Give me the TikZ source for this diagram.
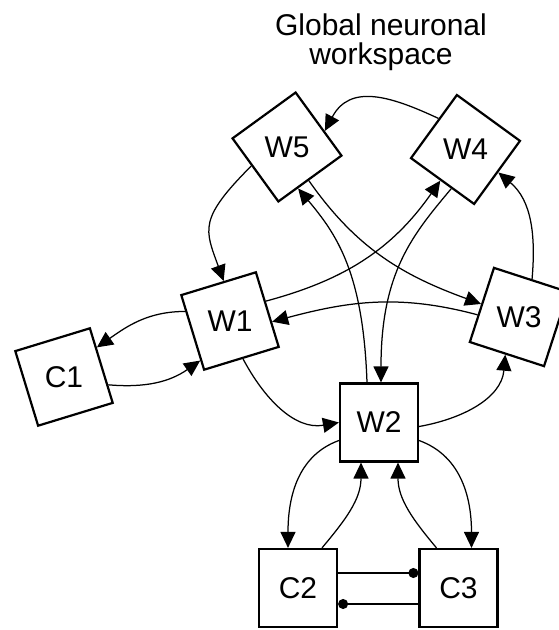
\documentclass[tikz,border=0pt]{standalone}
\usepackage{fontspec}
\setmainfont{Liberation Sans}
\usetikzlibrary{arrows.meta}
\begin{document}
\begin{tikzpicture}[x=1pt,y=1pt,
  box/.style={draw, line width=2.2pt, minimum size=78pt, inner sep=0pt,
    font=\fontsize{30}{34}\selectfont},
  link/.style={line width=1.25pt, -{Triangle[length=16pt,width=15pt]}},
  tie/.style={line width=1.25pt, -{Circle[length=10pt]}}]
\useasboundingbox (0,0) rectangle (559,630);

\node[font=\fontsize{30}{29.5}\selectfont, align=center] (title) at (381,588)
  {Global neuronal\\workspace};

% workspace units (tilted squares, upright labels)
\node[box, rotate=36]  (w5) at (287,483)   {\rotatebox{-36}{W5}};
\node[box, rotate=-36] (w4) at (465.5,480.5) {\rotatebox{36}{W4}};
\node[box, rotate=17]  (w1) at (230,309)   {\rotatebox{-17}{W1}};
\node[box, rotate=-18] (w3) at (519,313)   {\rotatebox{18}{W3}};
\node[box, rotate=17]  (c1) at (64,253)    {\rotatebox{-17}{C1}};
\node[box] (w2) at (379,207.5) {W2};
\node[box] (c2) at (298,42)    {C2};
\node[box] (c3) at (458.5,42)  {C3};

% long-range workspace connections
\draw[link] (w4.167) to[out=155,in=62,looseness=1.2] (w5.347);
\draw[link] (w5.172) .. controls +(225:75) and +(110:55) .. (w1.82);
\draw[link] (w3.89) to[out=85,in=-40] (w4.1);
\draw[link] (w1.12) to[out=15,in=235] (w4.267);
\draw[link] (w4.286) .. controls +(230:60) and +(90:110) .. ([xshift=2pt]w2.north);
\draw[link] ([xshift=-12pt]w2.north) .. controls +(92:110) and +(-50:60) .. (w5.249);
\draw[link] (w5.267) to[out=-55,in=160] (w3.179);
\draw[link] (w3.195) to[out=165,in=15] (w1.342);
\draw[link] (w1.272) to[out=-62,in=190] (w2.west);
\draw[link] ([yshift=-4pt]w2.east) to[out=10,in=-95] (w3.268);

% local processors
\draw[link] (w1.151) to[out=180,in=35] (c1.25);
\draw[link] (c1.333) to[out=-5,in=215] (w1.216);
\draw[link] ([yshift=-18pt]w2.west) to[out=200,in=90] ([xshift=-10pt]c2.north);
\draw[link] ([xshift=24pt]c2.north) to[out=50,in=-90] ([xshift=-18pt]w2.south);
\draw[link] ([xshift=-22pt]c3.north) to[out=130,in=-90] ([xshift=19pt]w2.south);
\draw[link] ([yshift=-18pt]w2.east) to[out=-20,in=90] ([xshift=13pt]c3.north);
\draw[tie] ([yshift=15pt]c2.east) -- ([yshift=15pt]c3.west);
\draw[tie] ([yshift=-16pt]c3.west) -- ([yshift=-16pt]c2.east);
\end{tikzpicture}
\end{document}
